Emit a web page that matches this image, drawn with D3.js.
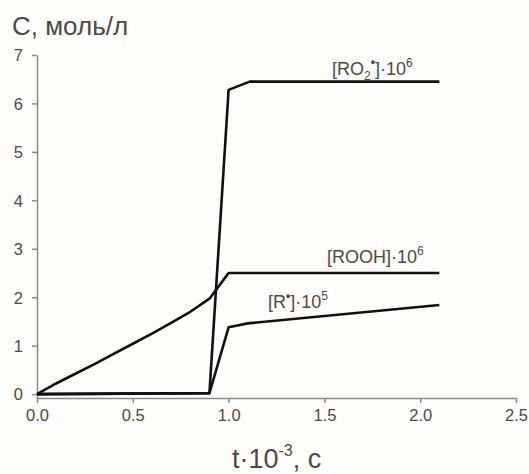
<!DOCTYPE html>
<html>
<head>
<meta charset="utf-8">
<script src="https://cdn.jsdelivr.net/npm/d3@7"></script>
<style>
  body { margin: 0; background: #fefdfa; }
  svg text { font-family: "Liberation Sans", Arial, sans-serif; fill: #4a4a4a; }
</style>
</head>
<body>
<script>
// time, 10^3 s
var tRO2 = [0, 0.9, 1.0, 1.11, 2.1];
var cRO2 = [0, 0.02, 6.28, 6.45, 6.45];

var tROOH = [0, 0.1, 0.2, 0.3, 0.4, 0.5, 0.6, 0.7, 0.8, 0.9, 1.0, 2.1];
var cROOH = [0, 0.22, 0.42, 0.62, 0.83, 1.04, 1.25, 1.47, 1.7, 1.97, 2.5, 2.5];

var tR = [0, 0.9, 1.0, 1.1, 2.1];
var cR = [0, 0.02, 1.38, 1.46, 1.84];

var xTicks = [0, 0.5, 1.0, 1.5, 2.0, 2.5];
var yTicks = [0, 1, 2, 3, 4, 5, 6, 7];

var width = 529, height = 474;

var x = d3.scaleLinear().domain([0, 2.5]).range([37, 516]);
var y = d3.scaleLinear().domain([-0.08, 7]).range([398, 55]);

var svg = d3.select("body").append("svg")
  .attr("width", width)
  .attr("height", height);

// axes
var xAxis = svg.append("g")
  .attr("transform", "translate(0," + y(-0.08) + ")")
  .call(d3.axisBottom(x).tickValues(xTicks).tickFormat(d3.format(".1f")).tickSizeInner(5).tickSizeOuter(0).tickPadding(6));

var yAxis = svg.append("g")
  .attr("transform", "translate(" + x(0) + ",0)")
  .call(d3.axisLeft(y).tickValues(yTicks).tickFormat(d3.format("d")).tickSizeInner(5).tickSizeOuter(0).tickPadding(9));

svg.selectAll(".domain, .tick line")
  .attr("stroke", "#8a8a8a")
  .attr("stroke-width", 1.5);
svg.selectAll(".tick text")
  .style("font-size", "16.5px")
  .attr("fill", "#4a4a4a");
yAxis.selectAll(".tick text").attr("dy", "0.35em");

// lines
var line = d3.line()
  .x(function (d) { return x(d[0]); })
  .y(function (d) { return y(d[1]); });

var series = [
  d3.zip(tRO2, cRO2),
  d3.zip(tROOH, cROOH),
  d3.zip(tR, cR)
];

svg.selectAll(".curve")
  .data(series)
  .enter()
  .append("path")
  .attr("class", "curve")
  .attr("d", line)
  .attr("fill", "none")
  .attr("stroke", "#111")
  .attr("stroke-width", 2.6)
  .attr("stroke-linejoin", "round");

// curve labels
function label(px, py) {
  return svg.append("text")
    .attr("x", px)
    .attr("y", py)
    .style("font-size", "18px");
}

var l1 = label(332, 75);
l1.append("tspan").text("[RO");
l1.append("tspan").attr("dy", 5).style("font-size", "12px").text("2");
l1.append("tspan").attr("dy", -14).style("font-size", "12px").style("font-weight", "bold").text("•");
l1.append("tspan").attr("dy", 9).text("]·10");
l1.append("tspan").attr("dy", -8).style("font-size", "12px").text("6");

var l2 = label(327, 263);
l2.append("tspan").text("[ROOH]·10");
l2.append("tspan").attr("dy", -8).style("font-size", "12px").text("6");

var l3 = label(268, 308);
l3.append("tspan").text("[R");
l3.append("tspan").attr("dy", -8).style("font-size", "12px").style("font-weight", "bold").text("•");
l3.append("tspan").attr("dy", 8).text("]·10");
l3.append("tspan").attr("dy", -8).style("font-size", "12px").text("5");

// axis titles
svg.append("text")
  .attr("x", 12)
  .attr("y", 35)
  .style("font-size", "26px")
  .text("С, моль/л");

var xt = svg.append("text")
  .attr("x", 232)
  .attr("y", 468)
  .style("font-size", "27px");
xt.append("tspan").text("t·10");
xt.append("tspan").attr("dy", -12).style("font-size", "16px").text("-3");
xt.append("tspan").attr("dy", 12).text(", с");
</script>
</body>
</html>
